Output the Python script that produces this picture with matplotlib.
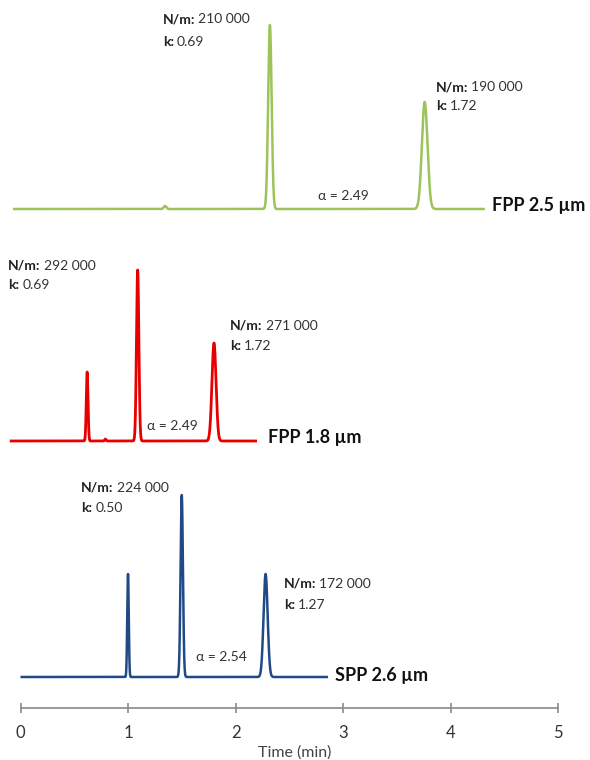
import numpy as np
import matplotlib.pyplot as plt

plt.rcParams['font.family'] = ['Lato', 'DejaVu Sans']

# Chromatogram peaks: retention time (min), height, width (sigma, min)
green_times = [1.345, 2.32, 3.76]
green_heights = [3, 184, 107]
green_sigmas = [0.012, 0.016, 0.026]
green_base = 499
green_range = (-0.07, 4.32)

red_times = [0.62, 0.79, 1.09, 1.80]
red_heights = [69, 2, 171, 98]
red_sigmas = [0.008, 0.006, 0.011, 0.019]
red_base = 267
red_range = (-0.10, 2.20)

blue_times = [1.00, 1.50, 2.28]
blue_heights = [103, 182, 103]
blue_sigmas = [0.007, 0.011, 0.019]
blue_base = 31
blue_range = (0.0, 2.86)

x_ticks = [0, 1, 2, 3, 4, 5]

notes = [
    (1.325, 689, 666, '210 000', '0.69'),
    (3.865, 621, 602, '190 000', '1.72'),
    (-0.116, 442, 423, '292 000', '0.69'),
    (1.949, 382, 362, '271 000', '1.72'),
    (0.563, 220, 200, '224 000', '0.50'),
    (2.451, 124, 103, '172 000', '1.27'),
]


def trace(times, heights, sigmas, base, rng):
    t = np.linspace(rng[0], rng[1], 6000)
    y = np.full_like(t, base, dtype=float)
    for tr, h, s in zip(times, heights, sigmas):
        y += h * np.exp(-0.5 * ((t - tr) / s) ** 2)
    return t, y


fig = plt.figure(figsize=(5.9, 7.6), dpi=100)
ax = fig.add_axes([0, 52 / 760, 1, 708 / 760])
ax.set_xlim(-20.5 / 107.5, (590 - 20.5) / 107.5)
ax.set_ylim(0, 708)

traces = [
    (green_times, green_heights, green_sigmas, green_base, green_range, '#9cc45a', 1.8),
    (red_times, red_heights, red_sigmas, red_base, red_range, '#e80000', 2.0),
    (blue_times, blue_heights, blue_sigmas, blue_base, blue_range, '#1f4a87', 1.8),
]
for times, heights, sigmas, base, rng, color, lw in traces:
    t, y = trace(times, heights, sigmas, base, rng)
    ax.plot(t, y, color=color, lw=lw, solid_capstyle='butt')

# annotations: bold key then regular value right after it
fs = 10
renderer = fig.canvas.get_renderer()


def key_value(x, y, key, value):
    tb = ax.text(x, y, key, fontsize=fs, fontweight='bold', color='#222222',
                 va='center', ha='left')
    bb = tb.get_window_extent(renderer=renderer)
    x2 = ax.transData.inverted().transform((bb.x1 + 3, 0))[0]
    ax.text(x2, y, value, fontsize=fs, color='#333333', va='center', ha='left')


for x, y1, y2, n, k in notes:
    key_value(x, y1, 'N/m:', n)
    key_value(x, y2, 'k:', k)

lab = dict(fontsize=fs, color='#333333', va='center', ha='left')
ax.text(2.77, 512, 'α = 2.49', **lab)
ax.text(1.178, 282, 'α = 2.49', **lab)
ax.text(1.633, 51, 'α = 2.54', **lab)

big = dict(fontsize=13, fontweight='bold', color='#111111', va='center', ha='left')
ax.text(4.385, 502, 'FPP 2.5 µm', **big)
ax.text(2.302, 271, 'FPP 1.8 µm', **big)
ax.text(2.926, 32, 'SPP 2.6 µm', **big)

# bottom time axis
for s in ['top', 'right', 'left']:
    ax.spines[s].set_visible(False)
ax.spines['bottom'].set_bounds(0, 5)
ax.spines['bottom'].set_color('#8a8a8a')
ax.spines['bottom'].set_linewidth(1.2)
ax.set_yticks([])
ax.set_xticks(x_ticks)
ax.tick_params(axis='x', direction='inout', length=7, width=1.2, color='#8a8a8a',
               labelsize=12, labelcolor='#333333', pad=9)
ax.set_xlabel('Time (min)', fontsize=11.5, color='#444444', labelpad=3)

fig.savefig('out.png', dpi=100)
